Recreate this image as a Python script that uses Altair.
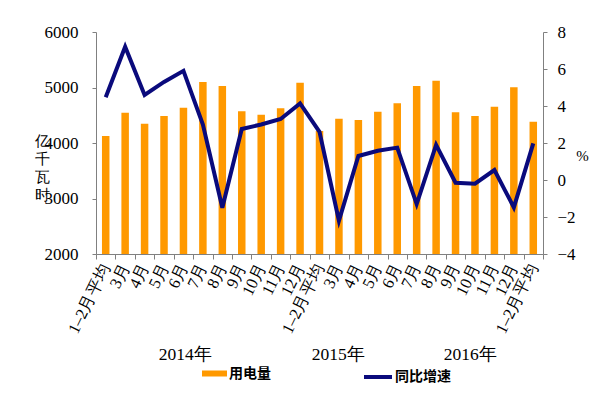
import json
import altair as alt
import pandas as pd

months = ["1–2月平均", "3月", "4月", "5月", "6月", "7月", "8月", "9月", "10月", "11月", "12月"]
labels = months + months + ["1–2月平均"]

power = [4126, 4546, 4348, 4486, 4636, 5099, 5027, 4571, 4510, 4625, 5087,
         4216, 4438, 4414, 4564, 4715, 5027, 5123, 4553, 4486, 4655, 5003,
         4384]
growth = [4.47, 7.2, 4.6, 5.3, 5.9, 3.0, -1.5, 2.76, 3.0, 3.3, 4.14,
          2.6, -2.2, 1.3, 1.58, 1.75, -1.3, 1.9, -0.15, -0.2, 0.54, -1.48,
          1.98]

years = ["2014年", "2015年", "2016年"]
year_idx = [5, 12, 19]
year_off = [-8, 9, 5]

df = pd.DataFrame({"idx": list(range(len(labels))), "power": power, "growth": growth})
ydf = pd.DataFrame({"idx": year_idx, "year": years, "off": year_off})

SERIF = "'Liberation Serif', 'Times New Roman', serif"
AX = "#808080"

label_expr = json.dumps(labels, ensure_ascii=False) + "[datum.value]"

x = alt.X("idx:O",
          scale=alt.Scale(domain=list(range(len(labels))), paddingInner=0, paddingOuter=0),
          axis=alt.Axis(title=None, labelExpr=label_expr, labelAngle=296,
                        labelAlign="right", labelBaseline="middle",
                        labelFont=SERIF, labelFontSize=16.5, labelColor="black",
                        labelPadding=5, tickSize=5, tickBand="extent",
                        domainColor=AX, tickColor=AX, grid=False))

bars = alt.Chart(df).transform_calculate(s="'用电量'").mark_bar(size=7.5, clip=True).encode(
    x=x,
    y=alt.Y("power:Q", scale=alt.Scale(domain=[2000, 6000], zero=False, nice=False),
            axis=alt.Axis(values=[2000, 3000, 4000, 5000, 6000], grid=False, format="d",
                          title=["亿", "千", "瓦", "时"], titleAngle=0,
                          titleX=-54, titleY=101, titleAlign="center", titleBaseline="top",
                          titleLineHeight=18, titleFont=SERIF, titleFontSize=15,
                          titleFontWeight="normal", titleColor="black",
                          labelFont=SERIF, labelFontSize=17, labelColor="black",
                          labelPadding=14, tickSize=4, domainColor=AX, tickColor=AX)),
    color=alt.Color("s:N",
                    scale=alt.Scale(domain=["用电量"], range=["#FF9900"]),
                    legend=alt.Legend(title=None, orient="none", legendX=106, legendY=329,
                                      symbolType="M-1,-0.24L1,-0.24L1,0.24L-1,0.24Z",
                                      symbolSize=625, symbolStrokeWidth=0,
                                      labelFont="Noto Sans CJK SC", labelFontSize=14,
                                      labelFontWeight="bold", labelColor="black",
                                      labelOffset=2, padding=0)),
)

line = alt.Chart(df).transform_calculate(t="'同比增速'").mark_line(strokeWidth=4).encode(
    x=x,
    y=alt.Y("growth:Q", scale=alt.Scale(domain=[-4, 8], nice=False, zero=False),
            axis=alt.Axis(orient="right", values=[-4, -2, 0, 2, 4, 6, 8], grid=False,
                          title="%", titleAngle=0, titleX=39, titleY=123,
                          titleAlign="center", titleBaseline="middle",
                          titleFont=SERIF, titleFontSize=15, titleFontWeight="normal",
                          titleColor="black",
                          labelFont=SERIF, labelFontSize=17, labelColor="black",
                          labelPadding=10, tickSize=4, domainColor=AX, tickColor=AX)),
    stroke=alt.Stroke("t:N",
                      scale=alt.Scale(domain=["同比增速"], range=["#0a0a7c"]),
                      legend=alt.Legend(title=None, orient="none", legendX=266, legendY=329,
                                        symbolType="stroke", symbolSize=784,
                                        symbolStrokeWidth=4,
                                        labelFont="Noto Sans CJK SC", labelFontSize=14,
                                        labelFontWeight="bold", labelColor="black",
                                        labelOffset=1, padding=0)),
)

year_text = alt.Chart(ydf).mark_text(font=SERIF, fontSize=17.5, color="black",
                                     align="center", baseline="middle").encode(
    x=x,
    xOffset=alt.XOffset("off:Q", scale=None),
    y=alt.value(323),
    text="year:N",
)

chart = alt.layer(bars, line, year_text).resolve_scale(
    y="independent"
).properties(
    width=447, height=222,
    autosize=alt.AutoSizeParams(type="none"),
    padding={"left": 88, "top": 24, "right": 55, "bottom": 130},
).configure_view(stroke=None)

chart.save("out.html", embed_options={"renderer": "svg", "actions": False})
